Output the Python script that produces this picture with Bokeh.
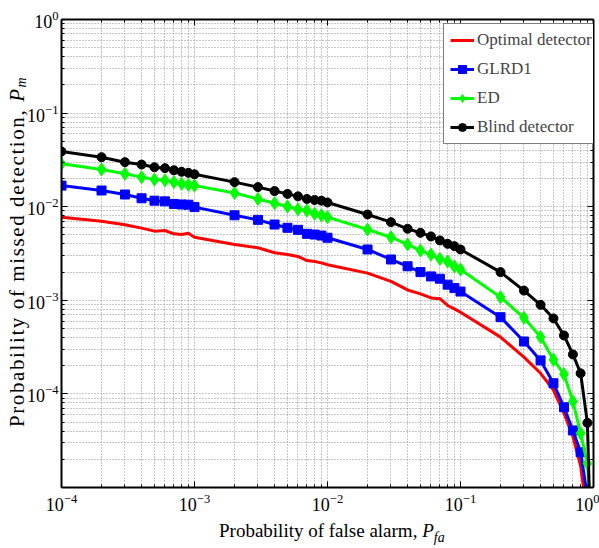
from bokeh.plotting import figure
from bokeh.models import (LogAxis, FixedTicker, LogTickFormatter, Legend,
                          LegendItem, Range1d, Div)
from bokeh.layouts import row, column
from bokeh.embed import file_html
from bokeh.resources import INLINE

# ---------------- data ----------------
pfa = [1e-4, 2e-4, 3e-4, 4e-4, 5e-4, 6e-4, 7e-4, 8e-4, 9e-4,
       1e-3, 2e-3, 3e-3, 4e-3, 5e-3, 6e-3, 7e-3, 8e-3, 9e-3,
       1e-2, 2e-2, 3e-2, 4e-2, 5e-2, 6e-2, 7e-2, 8e-2, 9e-2,
       0.1, 0.2, 0.3, 0.4, 0.5, 0.6, 0.7, 0.8, 0.9, 0.95]

pm_optimal = [0.00773, 0.0070, 0.0064, 0.0059, 0.00548, 0.00557, 0.00513, 0.00505, 0.0052,
              0.00472, 0.00394, 0.00364, 0.00322, 0.00309, 0.00294, 0.00266, 0.0026, 0.00251,
              0.00240, 0.00195, 0.00159, 0.00129, 0.00117, 0.00106, 0.00104, 0.00088, 0.00081,
              0.000746, 0.000404, 0.000247, 0.000166, 0.000110, 6.2e-5, 3.5e-5, 1.7e-5, 5e-6, 1e-6]

pm_glrd1 = [0.0168, 0.0149, 0.0135, 0.0123, 0.0116, 0.0114, 0.0107, 0.01056, 0.0105,
            0.0099, 0.0081, 0.00724, 0.00645, 0.00595, 0.00566, 0.00513, 0.00504, 0.00492,
            0.00466, 0.00349, 0.00273, 0.00231, 0.00200, 0.00180, 0.00170, 0.00147, 0.00135,
            0.00124, 0.00066, 0.000363, 0.000228, 0.000130, 7.2e-5, 4.07e-5, 2.38e-5, 8e-6, 2e-6]

pm_ed = [0.0287, 0.0250, 0.0225, 0.0207, 0.0195, 0.0191, 0.0183, 0.0176, 0.0171,
         0.0168, 0.0140, 0.0121, 0.0109, 0.01005, 0.0094, 0.0091, 0.0084, 0.0081,
         0.00773, 0.0057, 0.00472, 0.00395, 0.0034, 0.00308, 0.00277, 0.0026, 0.0023,
         0.00213, 0.00108, 0.00065, 0.000405, 0.000232, 0.000162, 8.3e-5, 3.8e-5, 1.8e-5, 6e-6]

pm_blind = [0.0389, 0.0338, 0.0299, 0.0282, 0.0264, 0.0258, 0.0245, 0.0236, 0.0230,
            0.0222, 0.0183, 0.0162, 0.0147, 0.0137, 0.0129, 0.0121, 0.0118, 0.0116,
            0.0111, 0.00826, 0.00684, 0.00581, 0.00526, 0.00481, 0.00436, 0.00401, 0.00379,
            0.00349, 0.00200, 0.00127, 0.000895, 0.000640, 0.000421, 0.000264, 0.000166, 4.9e-5, 3e-6]

series_names = ["Optimal detector", "GLRD1", "ED", "Blind detector"]

x_major = [1e-4, 1e-3, 1e-2, 1e-1, 1.0]
x_minor = [m * 10.0 ** k for k in range(-4, 0) for m in range(2, 10)]
y_major = [1e-4, 1e-3, 1e-2, 1e-1, 1.0]
y_minor = [m * 10.0 ** k for k in range(-5, 0) for m in range(2, 10)]

x_title = "Probability of false alarm, "
y_title = "Probability of missed detection, "

SERIF = "Liberation Serif"

# ---------------- figure ----------------
p = figure(width=575, height=517, x_axis_type="log", y_axis_type="log",
           x_range=Range1d(1e-4, 1.0), y_range=Range1d(1e-5, 1.0),
           output_backend="svg", toolbar_location=None,
           min_border_left=33, min_border_right=6, min_border_top=19,
           min_border_bottom=30, margin=0)
p.outline_line_color = None
p.background_fill_color = "white"
p.border_fill_color = "white"
p.border_fill_alpha = 0.0

xt = FixedTicker(ticks=x_major, minor_ticks=x_minor)
yt = FixedTicker(ticks=y_major, minor_ticks=y_minor)

p.xaxis.ticker = xt
p.yaxis.ticker = yt
for ax in (p.xaxis[0], p.yaxis[0]):
    ax.formatter = LogTickFormatter()
    ax.axis_line_width = 2
    ax.axis_line_color = "black"
    ax.major_tick_in = 6
    ax.major_tick_out = 0
    ax.minor_tick_in = 3
    ax.minor_tick_out = 0
    ax.major_tick_line_color = "black"
    ax.minor_tick_line_color = "black"
    ax.major_label_text_font = SERIF
    ax.major_label_text_font_size = "18px"
    ax.major_label_text_color = "black"
p.xaxis.major_label_standoff = 6
p.yaxis.major_label_standoff = 3

for loc, tk in (("above", xt), ("right", yt)):
    ax = LogAxis(ticker=tk, major_label_text_font_size="1px",
                 major_label_text_color=None,
                 major_label_standoff=0, axis_line_width=2,
                 major_tick_in=6, major_tick_out=0,
                 minor_tick_in=3, minor_tick_out=0)
    p.add_layout(ax, loc)

for g in (p.xgrid[0], p.ygrid[0]):
    g.grid_line_color = "#909090"
    g.grid_line_dash = "1 2"
    g.grid_line_width = 1
    g.minor_grid_line_color = "#909090"
    g.minor_grid_line_dash = "1 2"
    g.minor_grid_line_width = 1

# ---------------- series ----------------
r_opt = p.line(pfa, pm_optimal, line_color="#ff0000", line_width=3)

r_glrd_l = p.line(pfa, pm_glrd1, line_color="#0000ff", line_width=3)
r_glrd_m = p.scatter(pfa, pm_glrd1, marker="square", size=9,
                     fill_color="#0000ff", line_color="#0000ff")

r_ed_l = p.line(pfa, pm_ed, line_color="#00ff00", line_width=3)
r_ed_m = p.scatter(pfa, pm_ed, marker="diamond", size=13,
                   fill_color="#00ff00", line_color="#00ff00")

r_bl_l = p.line(pfa, pm_blind, line_color="black", line_width=3)
r_bl_m = p.scatter(pfa, pm_blind, marker="circle", size=9,
                   fill_color="black", line_color="black")

legend = Legend(items=[
    LegendItem(label=series_names[0], renderers=[r_opt]),
    LegendItem(label=series_names[1], renderers=[r_glrd_l, r_glrd_m]),
    LegendItem(label=series_names[2], renderers=[r_ed_l, r_ed_m]),
    LegendItem(label=series_names[3], renderers=[r_bl_l, r_bl_m]),
], location=(382, 343))
legend.border_line_color = "black"
legend.border_line_width = 1
legend.background_fill_color = "white"
legend.background_fill_alpha = 1.0
legend.label_text_font = SERIF
legend.label_text_font_size = "17px"
legend.padding = 6
legend.spacing = 9
legend.glyph_width = 24
legend.glyph_height = 20
legend.label_height = 20
legend.label_standoff = 3
legend.margin = 0
p.add_layout(legend)

# ---------------- axis titles (HTML, real text with italic P and subscripts) ----------------
font_css = "font-family:'Liberation Serif',serif;color:black;line-height:1;white-space:nowrap;"

xdiv = Div(width=575, height=31, margin=0,
           text=('<div style="padding-left:195px;padding-top:4px;font-size:19px;'
                 + font_css + '">' + x_title
                 + '<i>P</i><sub style="font-size:14px;font-style:italic;">fa</sub></div>'))

ydiv = Div(width=24, height=548, margin=0,
           styles={"overflow": "visible"},
           text=('<div style="display:inline-block;transform-origin:0 0;'
                 'transform:translate(7px,427px) rotate(-90deg);'
                 'font-size:21px;letter-spacing:1.6px;' + font_css + '">' + y_title
                 + '<i>P</i><sub style="font-size:14px;font-style:italic;'
                 'vertical-align:-2px;">m</sub></div>'))

layout = row(ydiv, column(p, xdiv, margin=0, spacing=0), margin=0, spacing=0)

open("out.html", "w").write(file_html(layout, INLINE))
